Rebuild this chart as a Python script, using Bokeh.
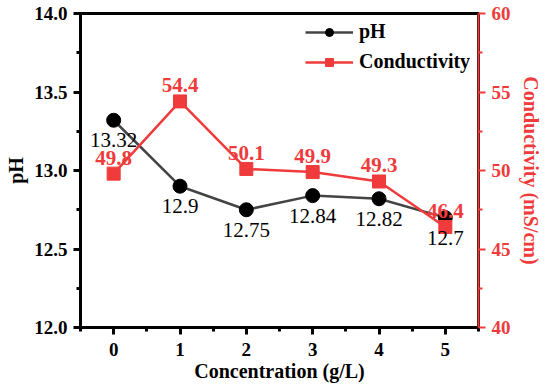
from bokeh.plotting import figure
from bokeh.models import (Range1d, LinearAxis, FixedTicker, NumeralTickFormatter,
                          Legend, LegendItem, ColumnDataSource)
from bokeh.core.properties import value
from bokeh.embed import file_html
from bokeh.resources import INLINE

concentration = [0, 1, 2, 3, 4, 5]
ph = [13.32, 12.9, 12.75, 12.84, 12.82, 12.7]
conductivity = [49.8, 54.4, 50.1, 49.9, 49.3, 46.4]
ph_labels = ["13.32", "12.9", "12.75", "12.84", "12.82", "12.7"]
cond_labels = ["49.8", "54.4", "50.1", "49.9", "49.3", "46.4"]

RED = "#EF3B3B"
FONT = "'Liberation Serif', 'Times New Roman', serif"

src = ColumnDataSource(dict(x=concentration, ph=ph, cond=conductivity,
                            phl=ph_labels, condl=cond_labels))

p = figure(frame_width=398, frame_height=314, output_backend="svg",
           toolbar_location=None, x_range=Range1d(-0.5, 5.5),
           y_range=Range1d(12.0, 14.0),
           min_border_left=80, min_border_right=66, min_border_top=13,
           min_border_bottom=58)
p.extra_y_ranges = {"cond": Range1d(40, 60)}
p.xgrid.visible = False
p.ygrid.visible = False
p.outline_line_color = "black"
p.outline_line_width = 3
p.background_fill_color = "white"
p.border_fill_color = "white"

# axes styling
xa = p.xaxis[0]
xa.ticker = FixedTicker(ticks=[0, 1, 2, 3, 4, 5],
                        minor_ticks=[-0.5, 0.5, 1.5, 2.5, 3.5, 4.5, 5.5])
ya = p.yaxis[0]
ya.ticker = FixedTicker(ticks=[12.0, 12.5, 13.0, 13.5, 14.0],
                        minor_ticks=[12.25, 12.75, 13.25, 13.75])
ya.formatter = NumeralTickFormatter(format="0.0")

for ax in (xa, ya):
    ax.axis_line_color = "black"
    ax.axis_line_width = 3
    ax.major_tick_line_color = "black"
    ax.major_tick_line_width = 3
    ax.minor_tick_line_color = "black"
    ax.minor_tick_line_width = 3
    ax.major_tick_out = 7
    ax.major_tick_in = 0
    ax.minor_tick_out = 4
    ax.minor_tick_in = 0
    ax.major_label_text_font = FONT
    ax.major_label_text_font_style = "bold"
    ax.major_label_text_font_size = "19px"
    ax.major_label_text_color = "black"
    ax.axis_label_text_font = FONT
    ax.axis_label_text_font_style = "bold"
    ax.axis_label_text_font_size = "20px"
    ax.axis_label_text_color = "black"

xa.axis_label = "Concentration (g/L)"
xa.major_label_standoff = 8
xa.axis_label_standoff = 1
ya.axis_label = "pH"
ya.major_label_standoff = 6
ya.axis_label_standoff = 4

ra = LinearAxis(y_range_name="cond",
                ticker=FixedTicker(ticks=[40, 45, 50, 55, 60],
                                   minor_ticks=[42.5, 47.5, 52.5, 57.5]),
                axis_label="Conductivity (mS/cm)")
ra.axis_line_color = RED
ra.axis_line_width = 2
ra.major_tick_line_color = RED
ra.major_tick_line_width = 2
ra.minor_tick_line_color = RED
ra.minor_tick_line_width = 2
ra.major_tick_out = 7
ra.major_tick_in = 0
ra.minor_tick_out = 4
ra.minor_tick_in = 0
ra.major_label_text_font = FONT
ra.major_label_text_font_style = "bold"
ra.major_label_text_font_size = "19px"
ra.major_label_text_color = RED
ra.major_label_standoff = 6
ra.axis_label_text_font = FONT
ra.axis_label_text_font_style = "bold"
ra.axis_label_text_font_size = "20px"
ra.axis_label_text_color = RED
ra.axis_label_standoff = 6
p.add_layout(ra, "right")

# series
l1 = p.line("x", "ph", source=src, line_color="#444444", line_width=2.5)
s1 = p.scatter("x", "ph", source=src, marker="circle", size=14,
               fill_color="black", line_color="black")
l2 = p.line("x", "cond", source=src, y_range_name="cond", line_color=RED,
            line_width=2.5)
s2 = p.scatter("x", "cond", source=src, y_range_name="cond", marker="square",
               size=13, fill_color=RED, line_color=RED)

# data labels
p.text("x", "ph", text="phl", source=src, text_font=value(FONT),
       text_font_size="21px", text_color="black", text_align="center",
       text_baseline="middle", y_offset=20)
p.text("x", "cond", text="condl", source=src, y_range_name="cond",
       text_font=value(FONT), text_font_style="bold", text_font_size="21px",
       text_color=RED, text_align="center", text_baseline="middle",
       y_offset=-16)

legend = Legend(items=[LegendItem(label="pH", renderers=[l1, s1]),
                       LegendItem(label="Conductivity", renderers=[l2, s2])],
                location=(225, 254), glyph_width=48, glyph_height=20,
                label_height=20, spacing=7, padding=0, margin=0,
                label_standoff=6, border_line_color=None,
                background_fill_alpha=0)
legend.label_text_font = FONT
legend.label_text_font_style = "bold"
legend.label_text_font_size = "20px"
legend.label_text_color = "black"
p.add_layout(legend, "center")

open("out.html", "w").write(file_html(p, INLINE))
